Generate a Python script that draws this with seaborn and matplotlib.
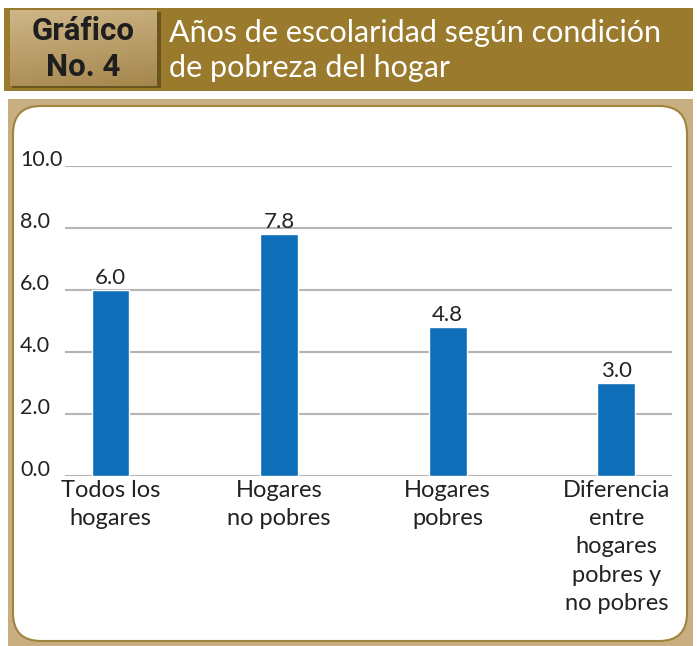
import numpy as np
import pandas as pd
import seaborn as sns
import matplotlib.pyplot as plt
from matplotlib.patches import Rectangle, FancyBboxPatch
from matplotlib.colors import LinearSegmentedColormap

# data
categorias = ['Todos los\nhogares', 'Hogares\nno pobres', 'Hogares\npobres',
              'Diferencia\nentre\nhogares\npobres y\nno pobres']
anios = [6.0, 7.8, 4.8, 3.0]
yticks = [0, 2, 4, 6, 8, 10]

df = pd.DataFrame({'cat': categorias, 'val': anios})

sns.set_style('white')
plt.rcParams['font.family'] = ['Lato', 'DejaVu Sans']

W, H = 697, 646
fig = plt.figure(figsize=(W / 100, H / 100), dpi=100)
fig.patch.set_facecolor('white')

def fx(px):
    return px / W

def fy(py):
    return 1 - py / H

# header band
fig.patches.append(Rectangle((fx(4), fy(91)), fx(689), 83 / H, transform=fig.transFigure,
                             facecolor='#9a7a2c', edgecolor='none', zorder=0))
# shadow + gradient label box
fig.patches.append(Rectangle((fx(12), fy(88)), fx(149), 76 / H, transform=fig.transFigure,
                             facecolor='#6a5420', edgecolor='none', zorder=0.5))
gax = fig.add_axes([fx(10), fy(86), fx(147), 76 / H])
gax.set_zorder(2)
grad = np.linspace(0, 1, 100)[:, None] * np.ones((1, 50))
grad = grad + 0.25 * np.linspace(0, 1, 50)[None, :]
cmap = LinearSegmentedColormap.from_list('g', ['#cfb688', '#a5874c'])
gax.imshow(grad, aspect='auto', cmap=cmap, extent=[0, 1, 0, 1], origin='upper')
gax.axis('off')
fig.text(fx(83), fy(31), 'Gráfico', ha='center', va='center', fontsize=22.5,
         fontweight='bold', color='#1e1e1e', family=['Roboto', 'DejaVu Sans'], zorder=5)
fig.text(fx(83), fy(67), 'No. 4', ha='center', va='center', fontsize=22.5,
         fontweight='bold', color='#1e1e1e', family=['Roboto', 'DejaVu Sans'], zorder=5)
fig.text(fx(169), fy(33), 'Años de escolaridad según condición', ha='left', va='center',
         fontsize=22, color='white', zorder=3)
fig.text(fx(169), fy(68), 'de pobreza del hogar', ha='left', va='center',
         fontsize=22, color='white', zorder=3)

# panel
fig.patches.append(Rectangle((fx(8), 0), fx(685), fy(99), transform=fig.transFigure,
                             facecolor='#c8ae80', edgecolor='none', zorder=0))
fig.patches.append(FancyBboxPatch((fx(13), fy(641)), fx(674), 535 / H,
                                  boxstyle='round,pad=0,rounding_size=0.04',
                                  mutation_aspect=W / H,
                                  transform=fig.transFigure, facecolor='white',
                                  edgecolor='#a0843e', linewidth=1.5, zorder=1))

# chart
ax = fig.add_axes([fx(65), fy(476), fx(607), 310 / H])
ax.set_facecolor('none')
ax.set_zorder(2)
sns.barplot(data=df, x='cat', y='val', color='#0e6eb8', saturation=1,
            width=0.225, ax=ax, zorder=3)
ax.set_ylim(0, 10)
ax.set_xlim(-0.27, 3.33)
ax.set_yticks(yticks)
ax.set_yticklabels([f'{v:.1f}' for v in yticks], fontsize=15.5, color='#222222')
for lab in ax.get_yticklabels():
    lab.set_horizontalalignment('left')
    lab.set_verticalalignment('baseline')
ax.tick_params(axis='y', length=0, pad=32.4)
ax.tick_params(axis='x', length=0, pad=3)
ax.set_xticks(range(len(categorias)))
ax.set_xticklabels(categorias, fontsize=17, color='#222222', linespacing=1.42)
ax.grid(axis='y', color='#b4b4b4', linewidth=1.5, zorder=0)
ax.set_axisbelow(True)
for s in ax.spines.values():
    s.set_visible(False)
ax.set_xlabel('')
ax.set_ylabel('')
for i, v in enumerate(anios):
    ax.annotate(f'{v:.1f}', (i, v), xytext=(0, 1.5), textcoords='offset points',
                ha='center', va='bottom', fontsize=16, color='#222222')

fig.savefig('out.png', dpi=100)
